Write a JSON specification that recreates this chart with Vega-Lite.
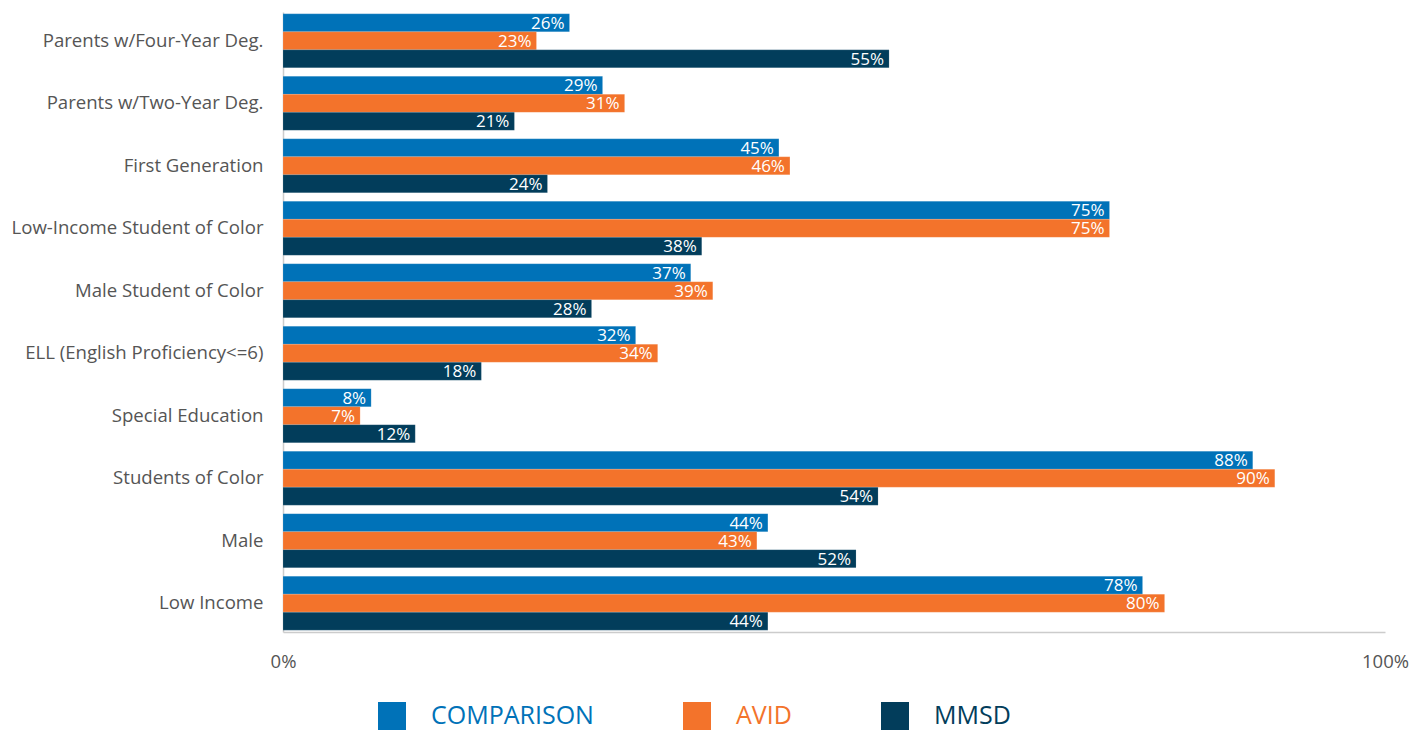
{
  "$schema": "https://vega.github.io/schema/vega-lite/v6.json",
  "width": 1102,
  "height": 620,
  "autosize": {"type": "none"},
  "padding": {"left": 283, "top": 12, "right": 43, "bottom": 98},
  "background": "white",
  "config": {
    "view": {"stroke": null},
    "font": "Open Sans"
  },
  "data": {
    "values": [
      {"category": "Parents w/Four-Year Deg.", "group": "COMPARISON", "value": 0.26},
      {"category": "Parents w/Four-Year Deg.", "group": "AVID", "value": 0.23},
      {"category": "Parents w/Four-Year Deg.", "group": "MMSD", "value": 0.55},
      {"category": "Parents w/Two-Year Deg.", "group": "COMPARISON", "value": 0.29},
      {"category": "Parents w/Two-Year Deg.", "group": "AVID", "value": 0.31},
      {"category": "Parents w/Two-Year Deg.", "group": "MMSD", "value": 0.21},
      {"category": "First Generation", "group": "COMPARISON", "value": 0.45},
      {"category": "First Generation", "group": "AVID", "value": 0.46},
      {"category": "First Generation", "group": "MMSD", "value": 0.24},
      {"category": "Low-Income Student of Color", "group": "COMPARISON", "value": 0.75},
      {"category": "Low-Income Student of Color", "group": "AVID", "value": 0.75},
      {"category": "Low-Income Student of Color", "group": "MMSD", "value": 0.38},
      {"category": "Male Student of Color", "group": "COMPARISON", "value": 0.37},
      {"category": "Male Student of Color", "group": "AVID", "value": 0.39},
      {"category": "Male Student of Color", "group": "MMSD", "value": 0.28},
      {"category": "ELL (English Proficiency<=6)", "group": "COMPARISON", "value": 0.32},
      {"category": "ELL (English Proficiency<=6)", "group": "AVID", "value": 0.34},
      {"category": "ELL (English Proficiency<=6)", "group": "MMSD", "value": 0.18},
      {"category": "Special Education", "group": "COMPARISON", "value": 0.08},
      {"category": "Special Education", "group": "AVID", "value": 0.07},
      {"category": "Special Education", "group": "MMSD", "value": 0.12},
      {"category": "Students of Color", "group": "COMPARISON", "value": 0.88},
      {"category": "Students of Color", "group": "AVID", "value": 0.90},
      {"category": "Students of Color", "group": "MMSD", "value": 0.54},
      {"category": "Male", "group": "COMPARISON", "value": 0.44},
      {"category": "Male", "group": "AVID", "value": 0.43},
      {"category": "Male", "group": "MMSD", "value": 0.52},
      {"category": "Low Income", "group": "COMPARISON", "value": 0.78},
      {"category": "Low Income", "group": "AVID", "value": 0.80},
      {"category": "Low Income", "group": "MMSD", "value": 0.44}
    ]
  },
  "encoding": {
    "y": {
      "field": "category",
      "type": "nominal",
      "sort": null,
      "scale": {"paddingInner": 0.136, "paddingOuter": 0.03},
      "axis": {
        "title": null,
        "ticks": false,
        "labelFontSize": 18.6,
        "labelColor": "#555555",
        "labelPadding": 20,
        "labelLimit": 300,
        "domainColor": "#cccccc",
        "domainWidth": 1.5
      }
    },
    "yOffset": {
      "field": "group",
      "type": "nominal",
      "sort": ["COMPARISON", "AVID", "MMSD"],
      "scale": {"paddingInner": 0, "paddingOuter": 0}
    },
    "x": {
      "field": "value",
      "type": "quantitative",
      "scale": {"domain": [0, 1], "nice": false},
      "axis": {
        "title": null,
        "values": [0, 1],
        "format": ".0%",
        "ticks": false,
        "grid": false,
        "labelFontSize": 18.5,
        "labelColor": "#555555",
        "labelPadding": 20,
        "domainColor": "#cccccc",
        "domainWidth": 1.5,
        "labelFlush": false
      }
    }
  },
  "layer": [
    {
      "mark": {"type": "bar", "stroke": "white", "strokeOpacity": 0.25, "strokeWidth": 0.5},
      "encoding": {
        "color": {
          "field": "group",
          "type": "nominal",
          "sort": ["COMPARISON", "AVID", "MMSD"],
          "scale": {"domain": ["COMPARISON", "AVID", "MMSD"], "range": ["#0072B8", "#F3732B", "#023D5B"]},
          "legend": {
            "title": null,
            "orient": "none",
            "direction": "horizontal",
            "legendX": 95,
            "legendY": 690,
            "symbolType": "square",
            "symbolSize": 784,
            "symbolStrokeWidth": 0,
            "symbolOpacity": 1,
            "labelFontSize": 25,
            "labelOffset": 25,
            "columnPadding": 89,
            "labelLimit": 400,
            "labelColor": {"expr": "datum.value === 'COMPARISON' ? '#0072B8' : datum.value === 'AVID' ? '#F3732B' : '#023D5B'"}
          }
        }
      }
    },
    {
      "mark": {"type": "text", "align": "right", "baseline": "middle", "dx": -5, "dy": 1, "color": "white", "fontSize": 17},
      "encoding": {
        "text": {"field": "value", "type": "quantitative", "format": ".0%"}
      }
    }
  ]
}
